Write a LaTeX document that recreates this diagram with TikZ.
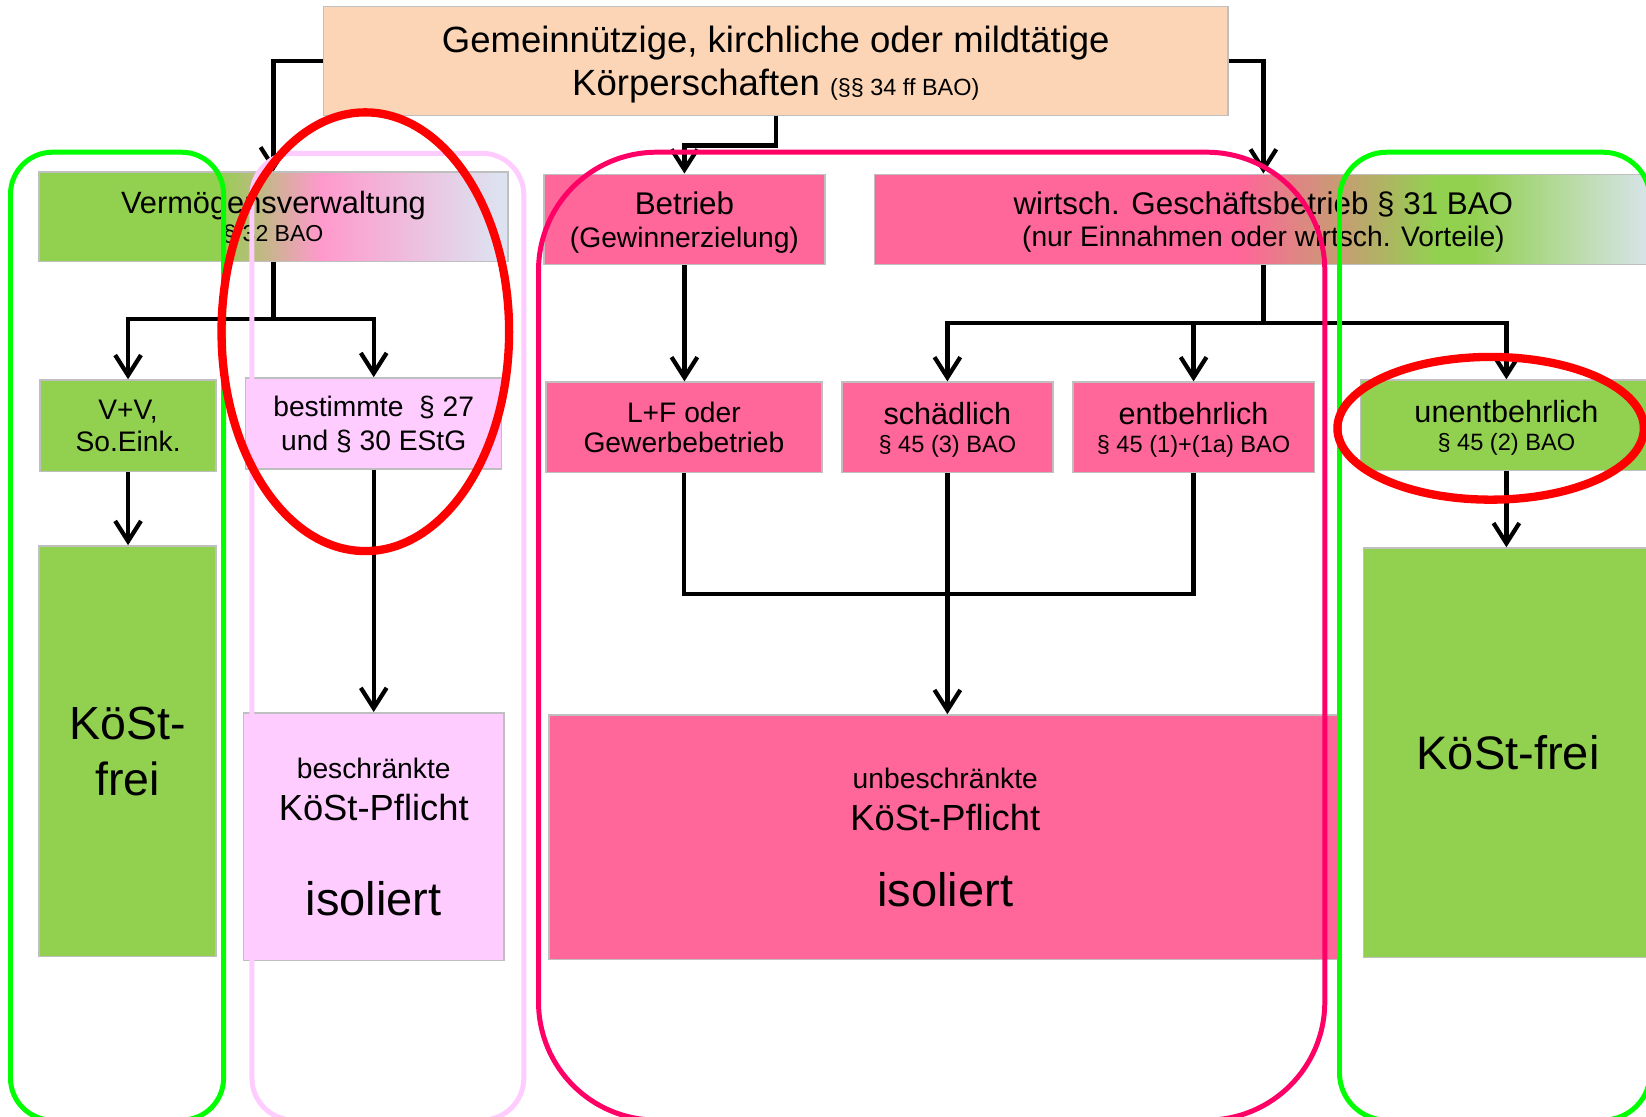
\documentclass[tikz,border=0pt]{standalone}
\usepackage{fontspec}
\setmainfont{Liberation Sans}
\usetikzlibrary{arrows.meta}

\definecolor{leafgreen}{HTML}{92D050}
\definecolor{rosebox}{HTML}{FF6699}
\definecolor{lilacbox}{HTML}{FFCCFF}
\definecolor{peach}{HTML}{FBD5B5}
\definecolor{fadepink}{HTML}{FF99CC}
\definecolor{lavender}{HTML}{DDE2F0}
\definecolor{paleblue}{HTML}{D9E4EC}
\definecolor{boxgray}{HTML}{BFBFBF}
\definecolor{lanegreen}{HTML}{00FF00}
\definecolor{lanepink}{HTML}{FF0066}
\definecolor{lanelilac}{HTML}{FFCCFF}
\definecolor{ringred}{HTML}{FF0000}

\pgfdeclarehorizontalshading{vvshading}{100bp}{color(0bp)=(leafgreen); color(25bp)=(leafgreen);
  color(44bp)=(leafgreen); color(55bp)=(fadepink); color(74bp)=(lavender); color(100bp)=(lavender)}
\pgfdeclarehorizontalshading{gbshading}{100bp}{color(0bp)=(rosebox); color(25bp)=(rosebox);
  color(48.5bp)=(rosebox); color(61bp)=(leafgreen); color(63.5bp)=(leafgreen); color(75bp)=(paleblue);
  color(100bp)=(paleblue)}

\begin{document}
\begin{tikzpicture}[x=0.02cm, y=-0.02cm,
  box/.style={draw=boxgray, line width=0.8pt, inner sep=0pt, align=center, text=black,
              text depth=0pt},
  link/.style={line width=2.3pt},
  arr/.style={link, -{Straight Barb[length=11pt,width=14pt]}},
  lane/.style={line width=2.7pt, rounded corners=#1},
  ring/.style={draw=ringred, line width=4.5pt}]

\path[use as bounding box] (0,0) rectangle (1568,1064);
\clip (0,0) rectangle (1568,1064);

\node [box, fill=peach, minimum width=17.24cm, minimum height=2.08cm,
       font=\fontsize{19.8pt}{23.4pt}\selectfont] (koerperschaft)
       at (739,58) {Gemeinnützige, kirchliche oder mildtätige\\
       Körperschaften {\fontsize{12.7pt}{14pt}\selectfont (§§ 34 ff BAO)}};

\node [box, shade, shading=vvshading, minimum width=8.94cm, minimum height=1.7cm,
       font=\fontsize{16.7pt}{15.2pt}\selectfont] (verwaltung)
       at (260.5,206.5) {Vermögensverwaltung\\{\fontsize{12.5pt}{14pt}\selectfont § 32 BAO}};
\node [box, fill=rosebox, minimum width=5.36cm, minimum height=1.72cm,
       font=\fontsize{17pt}{18pt}\selectfont] (betrieb)
       at (652,209) {Betrieb\\{\fontsize{15.3pt}{17pt}\selectfont (Gewinnerzielung)}};
\node [box, shade, shading=gbshading, minimum width=14.82cm, minimum height=1.72cm,
       font=\fontsize{17pt}{17.6pt}\selectfont] (geschaeft)
       at (1203.5,209) {wirtsch. Geschäftsbetrieb § 31 BAO\\
       {\fontsize{15.3pt}{17pt}\selectfont (nur Einnahmen oder wirtsch. Vorteile)}};

\node [box, fill=leafgreen, minimum width=3.36cm, minimum height=1.74cm,
       font=\fontsize{15.3pt}{17.5pt}\selectfont] (vuv)
       at (122,405.5) {V+V,\\So.Eink.};
\node [box, fill=lilacbox, minimum width=4.88cm, minimum height=1.74cm,
       font=\fontsize{15.3pt}{18.5pt}\selectfont] (bestimmte)
       at (356,403.5) {bestimmte~ § 27\\und § 30 EStG};
\node [box, fill=rosebox, minimum width=5.26cm, minimum height=1.72cm,
       font=\fontsize{15.3pt}{16.2pt}\selectfont] (luf)
       at (651.5,407) {L+F oder\\Gewerbebetrieb};
\node [box, fill=rosebox, minimum width=4.02cm, minimum height=1.72cm,
       font=\fontsize{16.6pt}{15.4pt}\selectfont] (schaedlich)
       at (902.5,407) {schädlich\\{\fontsize{12.8pt}{14pt}\selectfont § 45 (3) BAO}};
\node [box, fill=rosebox, minimum width=4.6cm, minimum height=1.72cm,
       font=\fontsize{16.6pt}{15.4pt}\selectfont] (entbehrlich)
       at (1137,407) {entbehrlich\\{\fontsize{12.8pt}{14pt}\selectfont § 45 (1)+(1a) BAO}};
\node [box, fill=leafgreen, minimum width=5.56cm, minimum height=1.72cm,
       font=\fontsize{16.6pt}{15.4pt}\selectfont] (unentbehrlich)
       at (1435,405) {unentbehrlich\\{\fontsize{12.8pt}{14pt}\selectfont § 45 (2) BAO}};

\node [box, fill=leafgreen, minimum width=3.38cm, minimum height=7.82cm,
       font=\fontsize{25.2pt}{30.3pt}\selectfont] (freilinks)
       at (121.5,715.5) {KöSt-\\frei};
\node [box, fill=lilacbox, minimum width=4.96cm, minimum height=4.72cm,
       font=\fontsize{15.3pt}{22.7pt}\selectfont] (beschraenkt)
       at (356,797) {beschränkte\\{\fontsize{19.7pt}{20pt}\selectfont KöSt-Pflicht}\\[28.9pt]
       {\fontsize{25.5pt}{26pt}\selectfont isoliert}};
\node [box, fill=rosebox, minimum width=15.1cm, minimum height=4.66cm,
       font=\fontsize{15.3pt}{23pt}\selectfont] (unbeschraenkt)
       at (900.5,797.5) {unbeschränkte\\{\fontsize{19.7pt}{20pt}\selectfont KöSt-Pflicht}\\[18.4pt]
       {\fontsize{25.5pt}{26pt}\selectfont isoliert}};
\node [box, fill=leafgreen, minimum width=5.5cm, minimum height=7.8cm,
       font=\fontsize{25.5pt}{30pt}\selectfont] (freirechts)
       at (1436.5,717) {KöSt-frei};

\draw[arr] (koerperschaft.west) -| (verwaltung.north);
\draw[arr] (koerperschaft.east) -| (geschaeft.north);
\draw[arr] (koerperschaft.south) -- ++(0,28) -| (betrieb.north);
\draw[link] (verwaltung.south) -- ++(0,54) coordinate (vsplit);
\draw[arr] (vsplit) -| (vuv.north);
\draw[arr] (vsplit) -| (bestimmte.north);
\draw[arr] (betrieb.south) -- (betrieb.south |- luf.north);
\draw[link] (geschaeft.south) -- ++(0,55) coordinate (gsplit);
\draw[arr] (gsplit) -| (schaedlich.north);
\draw[arr] (gsplit) -| (entbehrlich.north);
\draw[arr] (gsplit) -| (unentbehrlich.north);
\draw[arr] (vuv.south) -- (vuv.south |- freilinks.north);
\draw[arr] (bestimmte.south) -- (bestimmte.south |- beschraenkt.north);
\draw[link] (luf.south) -- ++(0,115) -| (entbehrlich.south);
\draw[arr] (schaedlich.south) -- (schaedlich.south |- unbeschraenkt.north);
\draw[arr] (unentbehrlich.south) -- (unentbehrlich.south |- freirechts.north);

\draw[lane=0.8cm, draw=lanegreen] (10,145) rectangle (213,1067);
\draw[lane=0.8cm, draw=lanelilac] (240,146) rectangle (499,1067);
\draw[lane=2.25cm, draw=lanepink] (513,145) rectangle (1262,1067);
\draw[lane=0.9cm, draw=lanegreen] (1276,145) rectangle (1572,1067);

\draw[ring] (348,316) ellipse [x radius=2.74cm, y radius=4.18cm];
\draw[ring] (1420,408) ellipse [x radius=2.92cm, y radius=1.36cm];
\end{tikzpicture}
\end{document}
